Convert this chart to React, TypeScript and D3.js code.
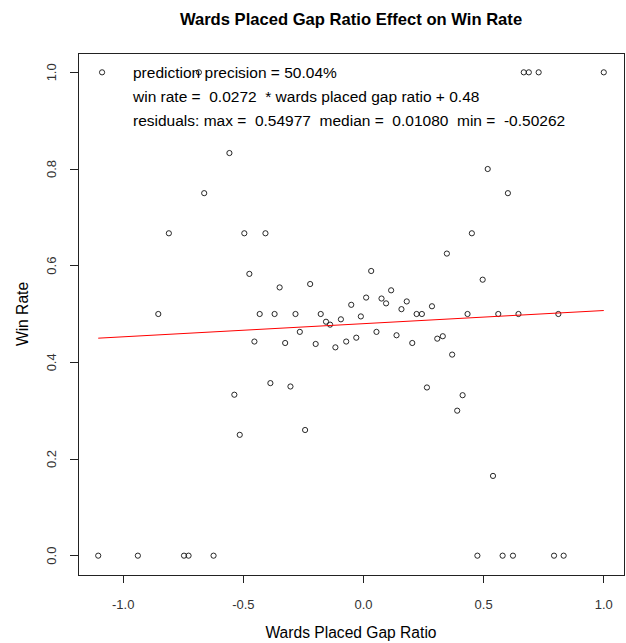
import { useMemo } from "react"
import * as d3 from "d3"

const gapRatio = [
  -1.088, -0.685, 0.667, 0.688, 0.729, 1.0,
  -0.558, 0.517, -0.663, 0.601,
  -0.81, -0.496, -0.408, 0.451, 0.347,
  0.032, -0.475, 0.496, -0.222, -0.349, 0.115,
  0.011, 0.075, 0.18, 0.094, -0.051, 0.285, 0.158,
  -0.854, -0.432, -0.37, -0.283, -0.178, 0.221, 0.243, 0.433, 0.561, 0.645, 0.811,
  -0.011, -0.094, -0.156, -0.139, -0.265, 0.054, 0.1375, 0.33, -0.03, 0.307,
  -0.454, -0.072, 0.203, -0.326, -0.199, -0.117, 0.369,
  -0.3875, -0.304, 0.264, -0.5375, 0.4125, 0.39, -0.243, -0.515, 0.539,
  -1.104, -0.939, -0.747, -0.728, -0.624, 0.474, 0.579, 0.622, 0.793, 0.833,
]

const winRate = [
  1.0, 1.0, 1.0, 1.0, 1.0, 1.0,
  0.833, 0.8, 0.75, 0.75,
  0.667, 0.667, 0.667, 0.667, 0.625,
  0.589, 0.583, 0.571, 0.562, 0.555, 0.549,
  0.534, 0.532, 0.526, 0.522, 0.519, 0.516, 0.51,
  0.5, 0.5, 0.5, 0.5, 0.5, 0.5, 0.5, 0.5, 0.5, 0.5, 0.5,
  0.495, 0.489, 0.484, 0.478, 0.463, 0.463, 0.456, 0.454, 0.451, 0.449,
  0.443, 0.443, 0.44, 0.44, 0.438, 0.431, 0.416,
  0.357, 0.35, 0.348, 0.333, 0.332, 0.3, 0.26, 0.25, 0.165,
  0, 0, 0, 0, 0, 0, 0, 0, 0, 0,
]

const xTicks = [-1.0, -0.5, 0.0, 0.5, 1.0]
const yTicks = [0.0, 0.2, 0.4, 0.6, 0.8, 1.0]

const slope = 0.0272
const intercept = 0.48

const annotations = [
  "prediction precision = 50.04%",
  "win rate =  0.0272  * wards placed gap ratio + 0.48",
  "residuals: max =  0.54977  median =  0.01080  min =  -0.50262",
]

const W = 626
const H = 643
const plot = { left: 78, right: 624, top: 53, bottom: 575 }
const font = "'Liberation Sans', Arial, sans-serif"

export default function App() {
  const points = useMemo(() => gapRatio.map((x, i) => ({ x, y: winRate[i] })), [])

  // R style 4% padding around the data range
  const xExt = d3.extent(gapRatio) as [number, number]
  const yExt = d3.extent(winRate) as [number, number]
  const xPad = (xExt[1] - xExt[0]) * 0.04
  const yPad = (yExt[1] - yExt[0]) * 0.04

  const x = d3.scaleLinear().domain([xExt[0] - xPad, xExt[1] + xPad]).range([plot.left, plot.right])
  const y = d3.scaleLinear().domain([yExt[0] - yPad, yExt[1] + yPad]).range([plot.bottom, plot.top])

  const fit = d3
    .line<number>()
    .x((d) => x(d))
    .y((d) => y(slope * d + intercept))

  const midX = (plot.left + plot.right) / 2
  const midY = (plot.top + plot.bottom) / 2

  return (
    <div style={{ position: "absolute", left: 0, top: 0 }}>
      <svg width={W} height={H} style={{ display: "block", background: "#fff" }} fontFamily={font}>
        <text x={midX} y={25} textAnchor="middle" fontSize={16.6} fontWeight="bold" fill="#000">
          Wards Placed Gap Ratio Effect on Win Rate
        </text>

        {/* box */}
        <rect
          x={plot.left}
          y={plot.top}
          width={plot.right - plot.left}
          height={plot.bottom - plot.top}
          fill="none"
          stroke="#222"
          strokeWidth={1}
          shapeRendering="crispEdges"
        />

        {/* x axis */}
        {xTicks.map((t) => (
          <g key={"x" + t}>
            <line x1={x(t)} x2={x(t)} y1={plot.bottom} y2={plot.bottom + 8} stroke="#222" shapeRendering="crispEdges" />
            <text x={x(t)} y={609} textAnchor="middle" fontSize={13} fill="#333">
              {t.toFixed(1)}
            </text>
          </g>
        ))}

        {/* y axis */}
        {yTicks.map((t) => (
          <g key={"y" + t}>
            <line x1={plot.left - 8} x2={plot.left} y1={y(t)} y2={y(t)} stroke="#222" shapeRendering="crispEdges" />
            <text
              transform={`translate(56,${y(t)}) rotate(-90)`}
              textAnchor="middle"
              fontSize={13}
              fill="#333"
            >
              {t.toFixed(1)}
            </text>
          </g>
        ))}

        <text x={midX} y={638} textAnchor="middle" fontSize={15.6} fill="#000">
          Wards Placed Gap Ratio
        </text>
        <text transform={`translate(28,${midY}) rotate(-90)`} textAnchor="middle" fontSize={15.6} fill="#000">
          Win Rate
        </text>

        {/* points */}
        {points.map((p, i) => (
          <circle key={i} cx={x(p.x)} cy={y(p.y)} r={2.6} fill="none" stroke="#111" strokeWidth={0.9} />
        ))}

        {/* regression line */}
        <path d={fit(xExt) ?? ""} fill="none" stroke="#ff0000" strokeWidth={1} />

        {annotations.map((s, i) => (
          <text key={i} x={133} y={77.5 + i * 24} fontSize={15.5} fill="#000" style={{ whiteSpace: "pre" }}>
            {s}
          </text>
        ))}
      </svg>
    </div>
  )
}
